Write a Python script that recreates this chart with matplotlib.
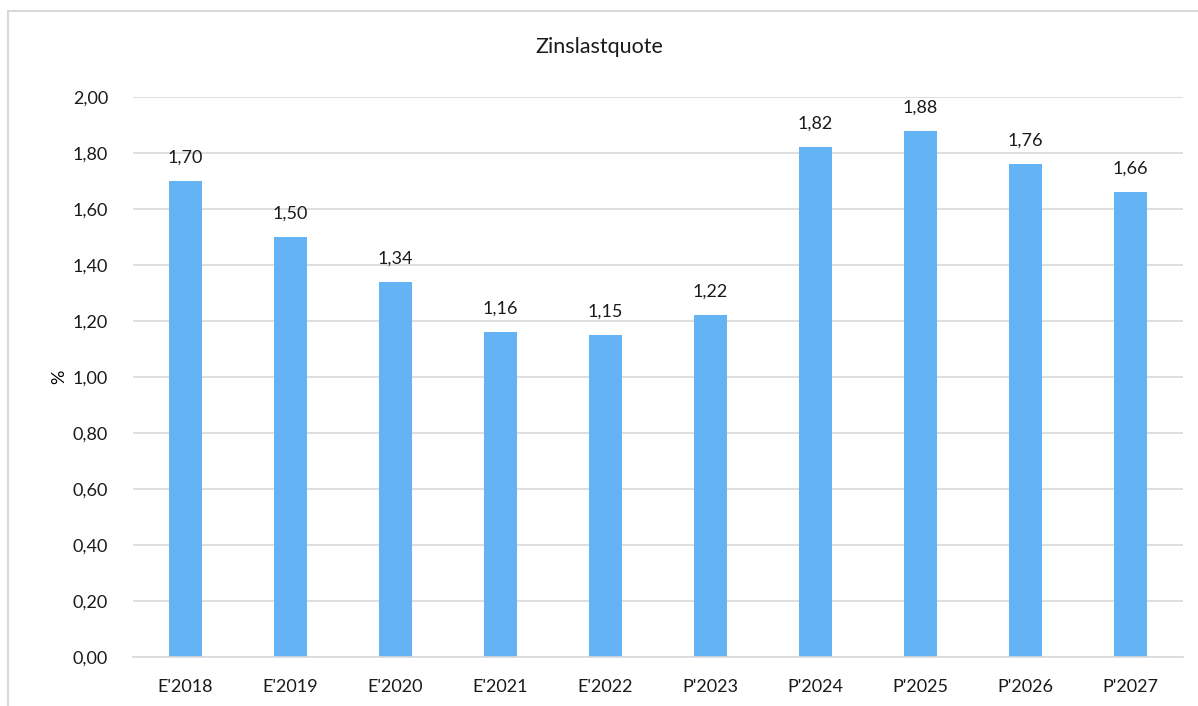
import numpy as np
import matplotlib.pyplot as plt
from matplotlib.patches import Rectangle

# Zinslastquote in %
years = ["E'2018", "E'2019", "E'2020", "E'2021", "E'2022",
         "P'2023", "P'2024", "P'2025", "P'2026", "P'2027"]
quote = [1.70, 1.50, 1.34, 1.16, 1.15, 1.22, 1.82, 1.88, 1.76, 1.66]
yticks = [0.0, 0.2, 0.4, 0.6, 0.8, 1.0, 1.2, 1.4, 1.6, 1.8, 2.0]

plt.rcParams['font.family'] = ['Lato', 'DejaVu Sans']

fig = plt.figure(figsize=(11.98, 7.06), dpi=100)
ax = fig.add_axes([0.111, 0.0694, 0.8765, 0.7932])

x = np.arange(len(years))
ax.bar(x, quote, width=0.31, color='#63b3f5', zorder=2)

for xi, v in zip(x, quote):
    ax.text(xi, v + 0.055, f"{v:.2f}".replace('.', ','), ha='center', va='bottom',
            fontsize=13, color='#1a1a1a')

ax.set_xlim(-0.5, len(years) - 0.5)
ax.set_ylim(0, 2.0)
ax.set_yticks(yticks)
ax.set_yticklabels([f"{t:.2f}".replace('.', ',') for t in yticks])
ax.set_xticks(x)
ax.set_xticklabels(years)
ax.tick_params(length=0, labelsize=13, colors='#1a1a1a')
ax.tick_params(axis='y', pad=18)
ax.tick_params(axis='x', pad=16)
ax.grid(axis='y', color='#d9d9d9', linewidth=1.2, zorder=0)
for s in ['top', 'right', 'left']:
    ax.spines[s].set_visible(False)
ax.spines['bottom'].set_color('#d9d9d9')
ax.spines['bottom'].set_linewidth(1.2)

ax.set_ylabel('%', fontsize=13, labelpad=4)
fig.text(0.5, 0.933, 'Zinslastquote', ha='center', va='center', fontsize=15.5, color='#1a1a1a')

# outer chart border
fig.patches.append(Rectangle((8 / 1198, -0.1), 1.2, 1 - 11 / 706 + 0.1, transform=fig.transFigure,
                             fill=False, edgecolor='#d9d9d9', linewidth=1.5))

fig.savefig('out.png', dpi=100)
